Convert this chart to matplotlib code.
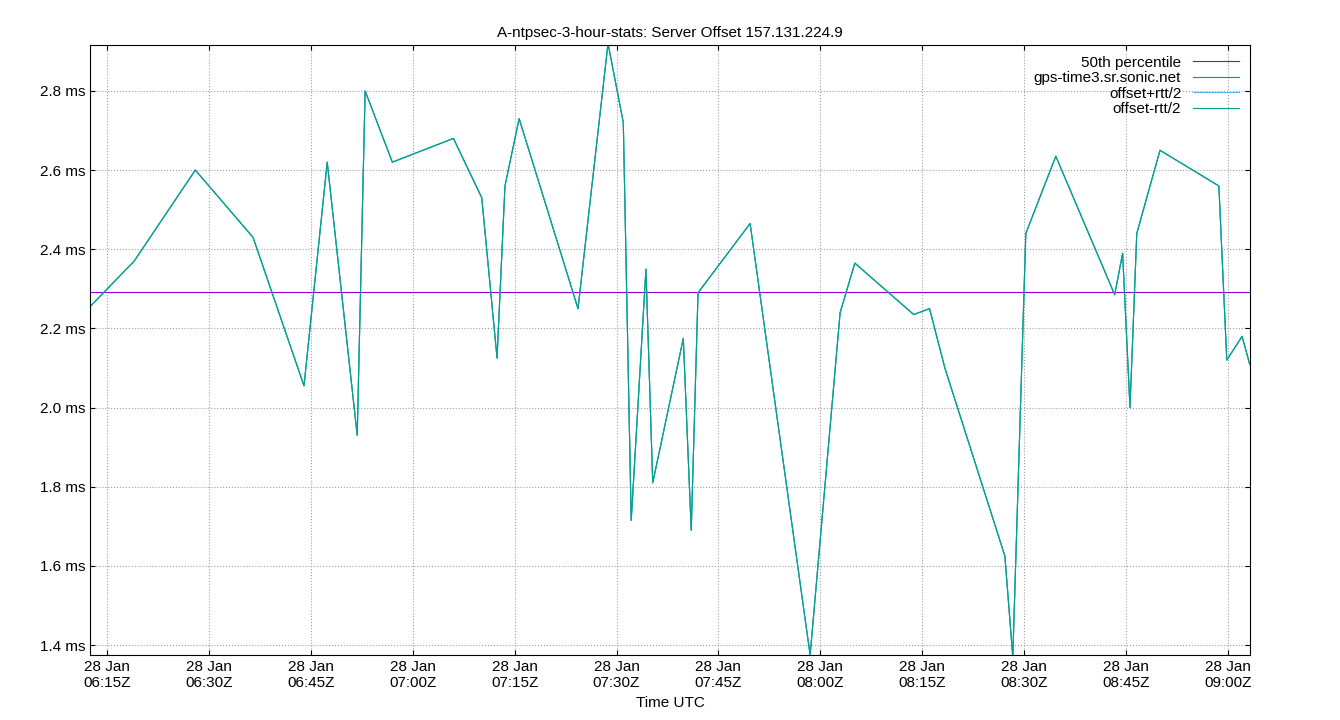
import matplotlib
matplotlib.use("Agg")
import matplotlib.pyplot as plt
import matplotlib.dates as mdates
import pandas as pd

plt.rcParams["font.family"] = ["Liberation Sans", "DejaVu Sans"]

times = ["06:12:30", "06:19:00", "06:28:00", "06:36:30", "06:44:00", "06:47:25",
         "06:51:50", "06:53:00", "06:57:00", "07:06:00", "07:10:10", "07:12:25",
         "07:13:35", "07:15:40", "07:24:20", "07:28:45", "07:31:00", "07:32:10",
         "07:34:20", "07:35:20", "07:39:50", "07:41:00", "07:42:00", "07:49:40",
         "07:58:30", "08:02:55", "08:05:05", "08:13:45", "08:16:05", "08:18:20",
         "08:27:10", "08:28:20", "08:30:15", "08:34:40", "08:43:20", "08:44:30",
         "08:45:35", "08:46:35", "08:50:00", "08:58:40", "08:59:50", "09:02:05",
         "09:03:12"]
offset = [2.255, 2.37, 2.60, 2.43, 2.055, 2.62, 1.93, 2.80, 2.62, 2.68, 2.53, 2.125,
          2.56, 2.73, 2.25, 2.92, 2.72, 1.715, 2.35, 1.81, 2.175, 1.69, 2.29, 2.465,
          1.375, 2.24, 2.365, 2.235, 2.25, 2.10, 1.625, 1.37, 2.44, 2.635, 2.285,
          2.39, 2.00, 2.44, 2.65, 2.56, 2.12, 2.18, 2.11]
rtt_half = [0.0] * len(offset)
median = 2.292

t = pd.to_datetime(["2023-01-28 " + s for s in times])
up = [o + r for o, r in zip(offset, rtt_half)]
lo = [o - r for o, r in zip(offset, rtt_half)]

fig = plt.figure(figsize=(13.4, 7.2), dpi=100)
ax = fig.add_axes([90 / 1340, 65 / 720, 1160 / 1340, 610 / 720])

ax.axhline(median, color="#9400d3", lw=0.8, label="50th percentile")
ax.plot(t, offset, color="#009e73", lw=0.8, label="gps-time3.sr.sonic.net")
ax.plot(t, up, color="#56b4e9", lw=0.8, label="offset+rtt/2")
ax.plot(t, lo, color="#00a08a", lw=0.8, label="offset-rtt/2")

ax.set_xlim(pd.Timestamp("2023-01-28 06:12:30"), pd.Timestamp("2023-01-28 09:03:15"))
ax.set_ylim(1.375, 2.916)
ax.xaxis.set_major_locator(mdates.MinuteLocator(byminute=[0, 15, 30, 45]))
ax.xaxis.set_major_formatter(mdates.DateFormatter("28 Jan\n%H:%MZ"))
ax.set_yticks([1.4, 1.6, 1.8, 2.0, 2.2, 2.4, 2.6, 2.8])
ax.set_yticklabels(["%.1f ms" % v for v in ax.get_yticks()])
ax.tick_params(direction="in", top=True, right=True, labelsize=11)
ax.grid(True, color="#a0a0a0", linestyle=":", lw=0.8)
ax.set_xlabel("Time UTC", fontsize=11)
ax.set_title("A-ntpsec-3-hour-stats: Server Offset 157.131.224.9", fontsize=11)
ax.legend(loc="upper right", frameon=False, markerfirst=False, fontsize=11,
          handlelength=3, borderaxespad=0.3, labelspacing=0.1)

fig.savefig("out.png")
